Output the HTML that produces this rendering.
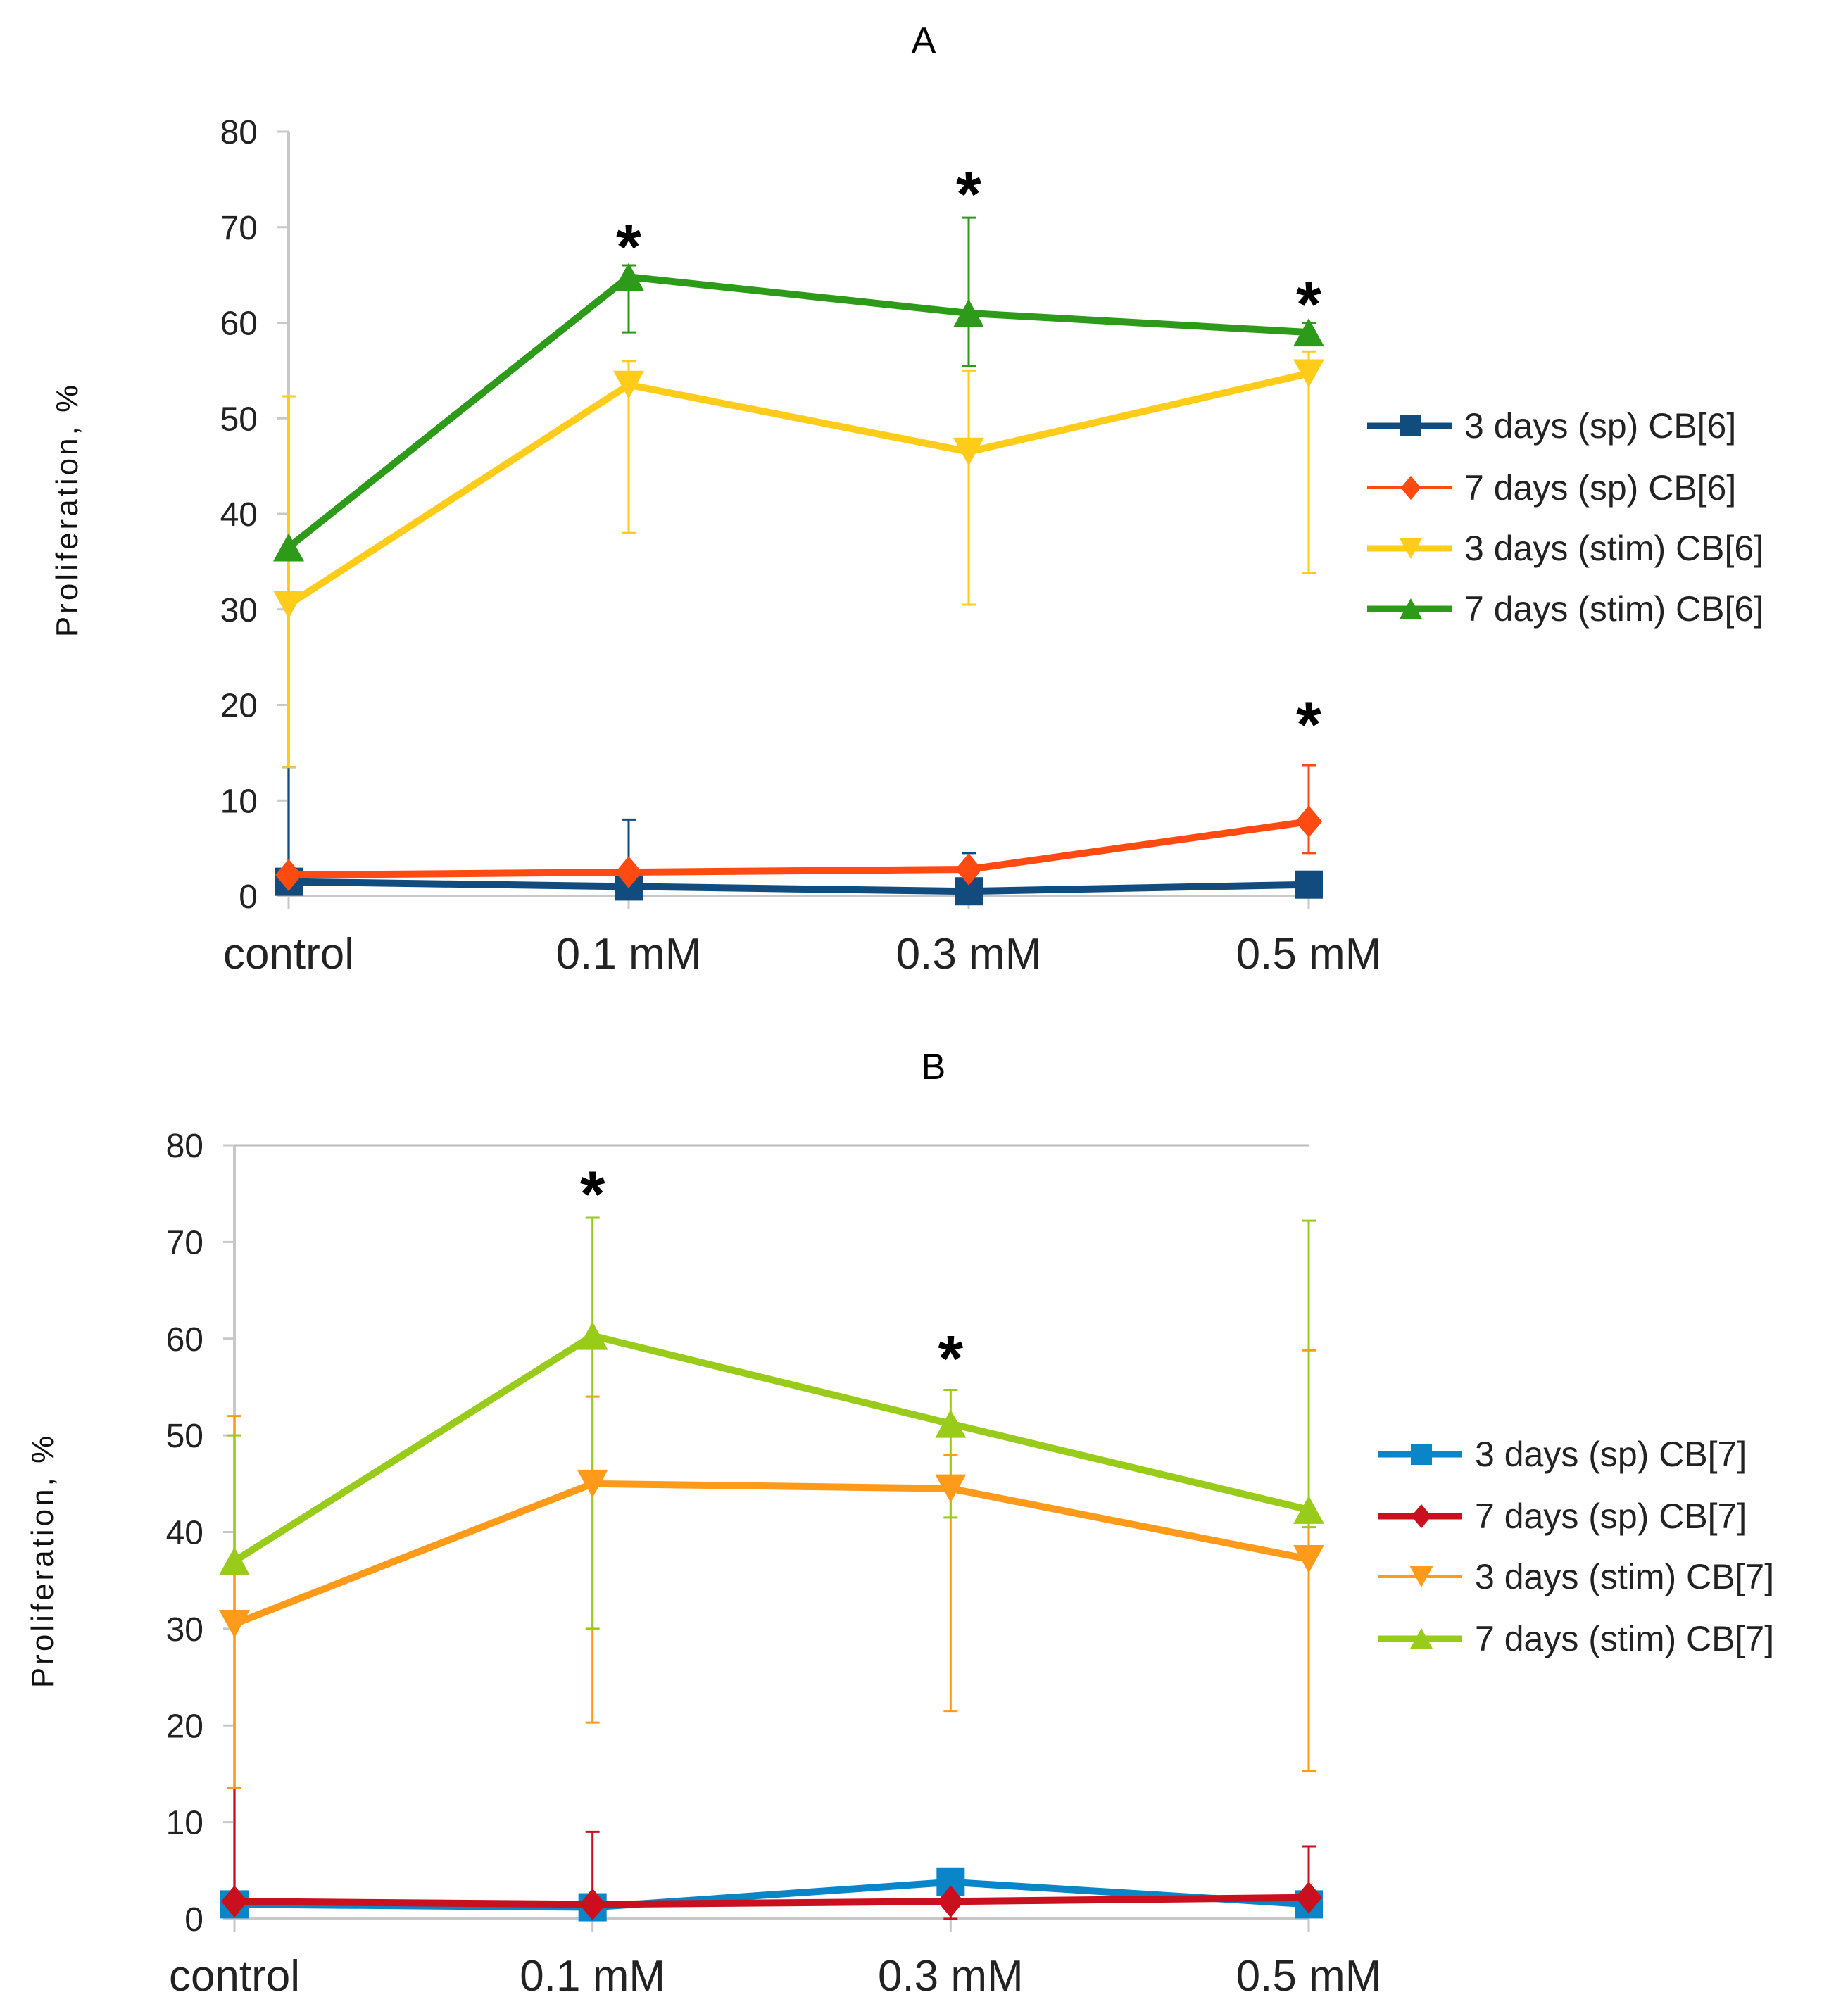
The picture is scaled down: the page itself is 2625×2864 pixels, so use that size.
<!DOCTYPE html>
<html><head><meta charset="utf-8">
<style>
html,body{margin:0;padding:0;background:#fff;}
svg{display:block;font-family:"Liberation Sans",sans-serif;}
</style></head>
<body>
<svg id="fig" width="2625" height="2864" viewBox="0 0 2625 2864" xmlns="http://www.w3.org/2000/svg"></svg>
<script>
const categories = ["control","0.1 mM","0.3 mM","0.5 mM"];
const yTicks = [0,10,20,30,40,50,60,70,80];

// Panel A
const aNames = ["3 days (sp) CB[6]","7 days (sp) CB[6]","3 days (stim) CB[6]","7 days (stim) CB[6]"];
const aSp3 = [1.5,1.0,0.5,1.2];
const aSp7 = [2.2,2.5,2.8,7.8];
const aSt3 = [30.5,53.5,46.5,54.7];
const aSt7 = [36.5,64.8,61.0,59.0];
const aSp3Hi = [13.5,8.0,4.5,1.2];
const aSp3Lo = [1.5,1.0,0.5,1.2];
const aSp7Hi = [2.2,2.5,2.8,13.7];
const aSp7Lo = [2.2,2.5,2.8,4.5];
const aSt3Hi = [52.3,56.0,55.0,57.0];
const aSt3Lo = [13.5,38.0,30.5,33.8];
const aSt7Hi = [36.5,66.0,71.0,60.0];
const aSt7Lo = [36.5,59.0,55.5,58.0];
const aStarCat = [1,2,3,3];
const aStarVal = [69,74.5,63,19];

// Panel B
const bNames = ["3 days (sp) CB[7]","7 days (sp) CB[7]","3 days (stim) CB[7]","7 days (stim) CB[7]"];
const bSp3 = [1.5,1.2,3.8,1.5];
const bSp7 = [1.8,1.5,1.8,2.2];
const bSt3 = [30.5,45.0,44.5,37.2];
const bSt7 = [37.0,60.3,51.2,42.3];
const bSp3Hi = [1.5,1.2,5.0,1.5];
const bSp3Lo = [1.5,1.2,2.5,1.5];
const bSp7Hi = [13.5,9.0,1.8,7.5];
const bSp7Lo = [1.8,1.5,0.0,2.2];
const bSt3Hi = [52.0,54.0,48.0,58.8];
const bSt3Lo = [13.5,20.3,21.5,15.3];
const bSt7Hi = [50.0,72.5,54.7,72.2];
const bSt7Lo = [37.0,30.0,41.5,40.5];
const bStarCat = [1,2];
const bStarVal = [76,59];

const NS="http://www.w3.org/2000/svg";
const svg=document.getElementById('fig');
function mk(tag,attrs,parent,text){const e=document.createElementNS(NS,tag);for(const k in attrs)e.setAttribute(k,attrs[k]);if(text!==undefined)e.textContent=text;(parent||svg).appendChild(e);return e;}

function marker(g,shape,x,y,color,s){
  let e;
  if(shape==='square'){e=mk('rect',{x:x-s,y:y-s,width:2*s,height:2*s,fill:color},g);}
  else if(shape==='diamond'){e=mk('polygon',{points:`${x},${y-s*1.2} ${x+s},${y} ${x},${y+s*1.2} ${x-s},${y}`,fill:color},g);}
  else if(shape==='down'){e=mk('polygon',{points:`${x-s*1.1},${y-s} ${x+s*1.1},${y-s} ${x},${y+s}`,fill:color},g);}
  else {e=mk('polygon',{points:`${x-s*1.1},${y+s} ${x+s*1.1},${y+s} ${x},${y-s}`,fill:color},g);}
  return e;
}

function panel(cfg){
  const X=i=>cfg.x0+i*(cfg.x3-cfg.x0)/3;
  const Y=v=>cfg.y0-v*(cfg.y0-cfg.y80)/80;
  const g=mk('g',{});
  
  
  const t=mk('text',{x:cfg.titleX,y:cfg.titleY,'font-size':52,'text-anchor':'middle',fill:'#000'},g,cfg.title);
  
  
  const ya=mk('line',{x1:cfg.x0,y1:cfg.y80,x2:cfg.x0,y2:cfg.y0,stroke:'#c8c8c8','stroke-width':4},g);
  
  
  const xa=mk('line',{x1:cfg.x0,y1:cfg.y0,x2:cfg.x3,y2:cfg.y0,stroke:'#c8c8c8','stroke-width':4},g);
  
  
  if(cfg.topLine){const tl=mk('line',{x1:cfg.x0,y1:cfg.y80,x2:cfg.x3,y2:cfg.y80,stroke:'#bbb','stroke-width':3},g);
    
    }
  yTicks.forEach(v=>{
    mk('line',{x1:cfg.x0-16,y1:Y(v),x2:cfg.x0,y2:Y(v),stroke:'#c8c8c8','stroke-width':3},g);
    const tx=mk('text',{x:cfg.x0-44,y:Y(v)+17,'font-size':48,'text-anchor':'end',fill:'#222'},g,String(v));
    
    
  });
  categories.forEach((c,i)=>{
    mk('line',{x1:X(i),y1:cfg.y0,x2:X(i),y2:cfg.y0+18,stroke:'#c8c8c8','stroke-width':3},g);
    const tx=mk('text',{x:X(i),y:cfg.xLabelY,'font-size':62,'text-anchor':'middle',fill:'#222'},g,c);
    
    
  });
  const yt=mk('text',{x:0,y:0,'font-size':44,'letter-spacing':4,'text-anchor':'middle',fill:'#111',transform:`translate(${cfg.ytX},${cfg.ytY}) rotate(-90)`},g,'Proliferation, %');
  
  
  cfg.series.forEach(s=>{
    const eg=mk('g',{stroke:s.color,'stroke-width':3},g);
    
    
    s.vals.forEach((v,i)=>{
      const hi=s.hi[i],lo=s.lo[i];
      if(hi===lo)return;
      mk('line',{x1:X(i),y1:Y(hi),x2:X(i),y2:Y(lo)},eg);
      if(hi>v)mk('line',{x1:X(i)-10,y1:Y(hi),x2:X(i)+10,y2:Y(hi)},eg);
      if(lo<v)mk('line',{x1:X(i)-10,y1:Y(lo),x2:X(i)+10,y2:Y(lo)},eg);
    });
  });
  cfg.series.forEach(s=>{
    const pl=mk('polyline',{points:s.vals.map((v,i)=>X(i)+','+Y(v)).join(' '),fill:'none',stroke:s.color,'stroke-width':10,'stroke-linejoin':'round'},g);
    
    
    s.vals.forEach((v,i)=>{
      const m=marker(g,s.shape,X(i),Y(v),s.color,s.size);
      
      
    });
  });
  cfg.starCat.forEach((c,i)=>{
    const st=mk('text',{x:X(c),y:Y(cfg.starVal[i])+46,'font-size':92,'font-weight':'bold','text-anchor':'middle',fill:'#000'},g,'*');
    
    
  });
  cfg.series.forEach((s,i)=>{
    const ly=cfg.legY[i];
    const lg=mk('g',{},g);
    
    
    mk('line',{x1:cfg.legX,y1:ly,x2:cfg.legX+120,y2:ly,stroke:s.color,'stroke-width':s.legW},lg);
    marker(lg,s.shape,cfg.legX+62,ly,s.color,s.size*0.75);
    mk('text',{x:cfg.legX+138,y:ly+17,'font-size':50,fill:'#222'},lg,s.name);
  });
}

panel({id:'panel-a',title:'A',titleX:1312,titleY:75,x0:410,x3:1859,y0:1273,y80:187,xLabelY:1376,ytX:110,ytY:724,
  legX:1942,legY:[605,693,779,865],starCat:aStarCat,starVal:aStarVal,topLine:false,
  series:[
   {key:'a-3d-sp',name:aNames[0],vals:aSp3,hi:aSp3Hi,lo:aSp3Lo,color:'#124c7e',shape:'square',size:20,legW:9},
   {key:'a-7d-sp',name:aNames[1],vals:aSp7,hi:aSp7Hi,lo:aSp7Lo,color:'#ff4a12',shape:'diamond',size:19,legW:4},
   {key:'a-3d-stim',name:aNames[2],vals:aSt3,hi:aSt3Hi,lo:aSt3Lo,color:'#ffcc1a',shape:'down',size:20,legW:9},
   {key:'a-7d-stim',name:aNames[3],vals:aSt7,hi:aSt7Hi,lo:aSt7Lo,color:'#2e9a1a',shape:'up',size:20,legW:9}]});

panel({id:'panel-b',title:'B',titleX:1326,titleY:1533,x0:333,x3:1859,y0:2726,y80:1627,xLabelY:2828,ytX:75,ytY:2217,
  legX:1957,legY:[2066,2154,2240,2328],starCat:bStarCat,starVal:bStarVal,topLine:true,
  series:[
   {key:'b-3d-sp',name:bNames[0],vals:bSp3,hi:bSp3Hi,lo:bSp3Lo,color:'#0a86c8',shape:'square',size:20,legW:9},
   {key:'b-7d-sp',name:bNames[1],vals:bSp7,hi:bSp7Hi,lo:bSp7Lo,color:'#c8101e',shape:'diamond',size:19,legW:9},
   {key:'b-3d-stim',name:bNames[2],vals:bSt3,hi:bSt3Hi,lo:bSt3Lo,color:'#ff9a1a',shape:'down',size:20,legW:4},
   {key:'b-7d-stim',name:bNames[3],vals:bSt7,hi:bSt7Hi,lo:bSt7Lo,color:'#99cc1a',shape:'up',size:20,legW:9}]});
</script>
</body></html>
